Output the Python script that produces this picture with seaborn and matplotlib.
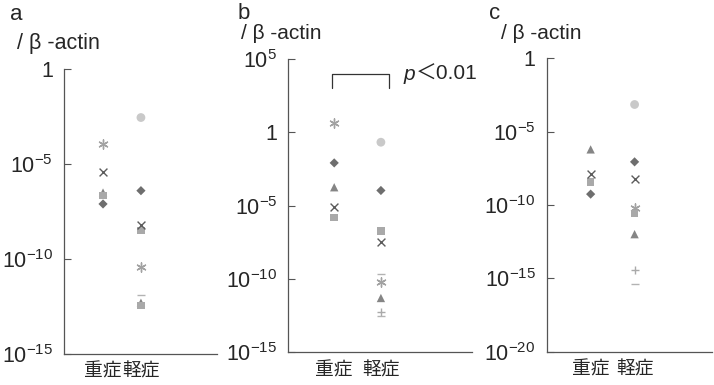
import numpy as np
import pandas as pd
import seaborn as sns
import matplotlib.pyplot as plt

# data (log10 of expression / beta-actin)
groups = ['重症', '軽症']

a_marker = ['*', 'x', '^', 's', 'D',
            'o', 'D', 'x', 's', '*', '_', '^', 's']
a_group = ['重症'] * 5 + ['軽症'] * 8
a_log = [-3.95, -5.4, -6.5, -6.65, -7.1,
         -2.55, -6.4, -8.2, -8.5, -10.4, -11.9, -12.3, -12.45]

b_marker = ['*', 'D', '^', 'x', 's',
            'o', 'D', 's', 'x', '_', '*', '^', '+', '_']
b_group = ['重症'] * 5 + ['軽症'] * 9
b_log = [0.61, -2.09, -3.75, -5.09, -5.8,
         -0.68, -3.97, -6.75, -7.5, -9.65, -10.2, -11.3, -12.27, -12.5]

c_marker = ['^', 'x', 's', 'D',
            'o', 'D', 'x', '*', 's', '^', '+', '_']
c_group = ['重症'] * 4 + ['軽症'] * 8
c_log = [-6.2, -7.89, -8.43, -9.25,
         -3.14, -7.05, -8.25, -10.2, -10.57, -11.98, -14.43, -15.4]

sns.set_style('white')
plt.rcParams['font.family'] = ['Liberation Sans', 'Noto Sans CJK JP', 'DejaVu Sans']
plt.rcParams['mathtext.fontset'] = 'custom'
plt.rcParams['mathtext.rm'] = 'Liberation Sans'
plt.rcParams['mathtext.it'] = 'Liberation Sans:italic'

# marker look: (matplotlib marker, colour, size)
style = {
    'o': ('o', '#c9c9c9', 40),
    'D': ('D', '#6e6e6e', 22),
    'x': ('x', '#5c5c5c', 32),
    '*': ((6, 2, 0), '#a2a2a2', 44),
    '^': ('^', '#858585', 36),
    's': ('s', '#a9a9a9', 30),
    '_': ('_', '#b3b3b3', 38),
    '+': ('+', '#aaaaaa', 38),
}

fig = plt.figure(figsize=(7.14, 3.85), dpi=100)

panels = [
    ('a', a_group, a_log, a_marker, [0.0896, 0.0805, 0.214, 0.740], (-15, 0), (-1.03, 3.0)),
    ('b', b_group, b_log, b_marker, [0.404, 0.085, 0.257, 0.762], (-15, 5), (-0.98, 2.95)),
    ('c', c_group, c_log, c_marker, [0.7657, 0.0862, 0.232, 0.762], (-20, 0), (-1.0, 2.77)),
]

for name, grp, logv, mk, rect, ylim, xlim in panels:
    ax = fig.add_axes(rect)
    df = pd.DataFrame({'group': grp, 'value': 10.0 ** np.array(logv), 'marker': mk})
    df['group'] = pd.Categorical(df['group'], categories=groups)
    df['x'] = df['group'].cat.codes
    for m, sub in df.groupby('marker'):
        mm, col, sz = style[m]
        kw = dict(edgecolor='none') if m in 'oDs^' else dict(linewidth=1.0)
        sns.scatterplot(data=sub, x='x', y='value', marker=mm, color=col, s=sz,
                        ax=ax, legend=False, zorder=3, **kw)
    ax.set_yscale('log')
    ax.set_ylim(10.0 ** ylim[0], 10.0 ** ylim[1])
    ax.set_xlim(*xlim)
    ticks = np.arange(ylim[0], ylim[1] + 1, 5)
    ax.set_yticks(10.0 ** ticks)
    ax.set_yticklabels(['1' if t == 0 else r'$\mathdefault{10^{%d}}$' % t for t in ticks])
    ax.minorticks_off()
    ax.set_xticks([0, 1])
    ax.set_xticklabels(groups, fontsize=13.5, family=['Noto Sans CJK JP'])
    ax.tick_params(axis='y', direction='in', length=5, width=0.8, color='#555555',
                   labelsize=15.5, pad=8, left=True)
    ax.tick_params(axis='x', length=0, pad=5)
    ax.set_xlabel('')
    ax.set_ylabel('')
    for s in ['top', 'right']:
        ax.spines[s].set_visible(False)
    for s in ['left', 'bottom']:
        ax.spines[s].set_color('#555555')
        ax.spines[s].set_linewidth(0.9)
    if name == 'b':
        ax.plot([-0.05, -0.05, 1.18, 1.18], [1e3, 1e4, 1e4, 1e3], color='#333333', lw=0.9,
                clip_on=False)
        ax.text(1.48, 10 ** 3.95, 'p', fontsize=15, style='italic', va='center', ha='left')
        ax.text(1.74, 10 ** 3.95, '＜0.01', fontsize=15, va='center', ha='left',
                family=['Liberation Sans', 'Noto Sans CJK JP'])

fig.text(0.014, 0.962, 'a', fontsize=16, va='center')
fig.text(0.024, 0.888, '/ β -actin', fontsize=15.5, va='center')
fig.text(0.333, 0.966, 'b', fontsize=16, va='center')
fig.text(0.337, 0.912, '/ β -actin', fontsize=15, va='center')
fig.text(0.685, 0.966, 'c', fontsize=16, va='center')
fig.text(0.701, 0.912, '/ β -actin', fontsize=15, va='center')

fig.savefig('out.png', dpi=100)
